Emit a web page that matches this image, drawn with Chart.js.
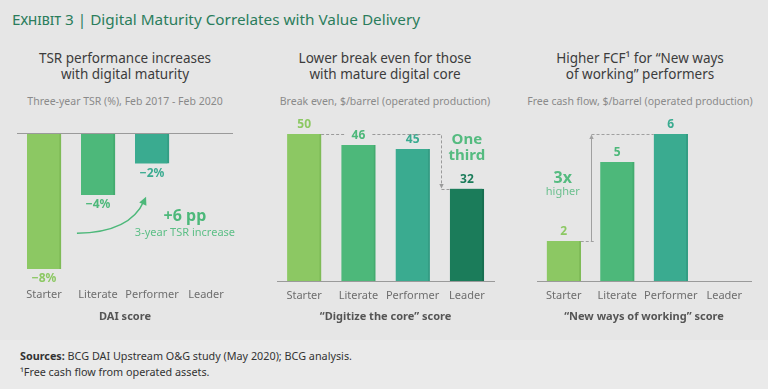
<!DOCTYPE html>
<html>
<head>
<meta charset="utf-8">
<script src="https://cdn.jsdelivr.net/npm/chart.js@4"></script>
<style>
  html, body { margin: 0; padding: 0; }
  body { width: 768px; height: 389px; background: #e6e6e6; position: relative; overflow: hidden; font-family: "Noto Sans", sans-serif; }
  .hdr { position: absolute; left: 12px; top: 9px; font-size: 15.3px; color: #2b7d5c; white-space: nowrap; }
  .hdr .ex { font-variant: small-caps; }
  .ttl { position: absolute; width: 256px; text-align: center; font-size: 13.5px; line-height: 16px; color: #3c3c3c; }
  .sub { position: absolute; width: 256px; text-align: center; font-size: 10.5px; color: #8a8a8a; white-space: nowrap; }
  .cv { position: absolute; top: 110px; height: 220px; }
  .foot { position: absolute; left: 0; top: 340px; width: 768px; height: 49px; background: #eaeaea; }
  .fn { position: absolute; left: 20px; font-size: 10.8px; color: #333; white-space: nowrap; }
</style>
</head>
<body>
<div class="hdr"><span class="ex">Exhibit 3</span> | Digital Maturity Correlates with Value Delivery</div>

<div class="ttl" style="left:-3px;top:50px">TSR performance increases<br>with digital maturity</div>
<div class="sub" style="left:-3px;top:94px">Three-year TSR (%), Feb 2017 - Feb 2020</div>

<div class="ttl" style="left:257px;top:50px">Lower break even for those<br>with mature digital core</div>
<div class="sub" style="left:257px;top:94px">Break even, $/barrel (operated production)</div>

<div class="ttl" style="left:512px;top:50px">Higher FCF¹ for “New ways<br>of working” performers</div>
<div class="sub" style="left:512px;top:94px">Free cash flow, $/barrel (operated production)</div>

<div class="cv" style="left:0;width:250px"><canvas id="chart1"></canvas></div>
<div class="cv" style="left:255px;width:255px"><canvas id="chart2"></canvas></div>
<div class="cv" style="left:510px;width:258px"><canvas id="chart3"></canvas></div>

<div class="foot"></div>
<div class="fn" style="top:348px"><b>Sources:</b> BCG DAI Upstream O&amp;G study (May 2020); BCG analysis.</div>
<div class="fn" style="top:364px">¹Free cash flow from operated assets.</div>

<script>
Chart.defaults.font.family = '"Noto Sans", sans-serif'
Chart.defaults.animation = false

// categories
const levels = ['Starter', 'Literate', 'Performer', 'Leader']
const barColors = ['#8cc863', '#4db87a', '#3aab90', '#1b7c5a']
const edgeColors = ['#7fbb57', '#44ab6f', '#349d84', '#176e50']

// panel 1: three-year TSR (%)
const tsrValues = [-8, -3.65, -1.8, null]
const tsrLabels = ['−8%', '−4%', '−2%', '']

// panel 2: break even, $/barrel
const breakEvenValues = [50, 46.3, 44.9, 31.4]
const breakEvenLabels = ['50', '46', '45', '32']

// panel 3: free cash flow, $/barrel
const fcfValues = [1.63, 4.86, 6, null]
const fcfLabels = ['2', '5', '6', '']

const axisTitles = ['DAI score', '“Digitize the core” score', '“New ways of working” score']

// draws value labels above (or below, for negatives) each bar
const valueLabels = {
  id: 'valueLabels',
  afterDatasetsDraw(chart, args, opts) {
    const ctx = chart.ctx
    const meta = chart.getDatasetMeta(0)
    ctx.save()
    ctx.font = 'bold 12px "Noto Sans", sans-serif'
    ctx.textAlign = 'center'
    ctx.textBaseline = 'middle'
    meta.data.forEach((bar, i) => {
      const v = chart.data.datasets[0].data[i]
      if (v == null) return
      ctx.fillStyle = barColors[i]
      const y = v < 0 ? bar.y + 10 : bar.y - 9.5
      ctx.fillText(opts.labels[i], bar.x, y)
    })
    ctx.restore()
  }
}

function arrowHead(ctx, x, y, ang, size) {
  ctx.beginPath()
  ctx.moveTo(x, y)
  ctx.lineTo(x - size * Math.cos(ang - 0.45), y - size * Math.sin(ang - 0.45))
  ctx.lineTo(x - size * Math.cos(ang + 0.45), y - size * Math.sin(ang + 0.45))
  ctx.closePath()
  ctx.fill()
}

function baseOptions(min, max, pad, tickPad, axisH, title, showBorder) {
  return {
    responsive: true,
    maintainAspectRatio: false,
    layout: { padding: pad },
    plugins: { legend: { display: false }, tooltip: { enabled: false } },
    scales: {
      x: {
        grid: { display: false, drawTicks: false },
        border: { display: showBorder, color: '#9a9a9a', width: 1 },
        ticks: { color: '#6e6e6e', font: { size: 11 }, padding: tickPad, maxRotation: 0, minRotation: 0, autoSkip: false },
        title: { display: true, text: title, color: '#555', font: { size: 11, weight: 'bold' }, padding: { top: 0, bottom: 7 } },
        afterFit(scale) { scale.height = axisH; scale.paddingLeft = 0; scale.paddingRight = 0 }
      },
      y: { display: false, min: min, max: max }
    }
  }
}

function barData(values) {
  return {
    labels: levels,
    datasets: [{
      data: values,
      backgroundColor: barColors,
      borderColor: edgeColors,
      borderWidth: { top: 0, left: 0, bottom: 0, right: 2 },
      borderSkipped: false,
      barThickness: 34
    }]
  }
}

// chart 1: negative bars hanging from a top axis line
const tsrNotes = {
  id: 'tsrNotes',
  afterDatasetsDraw(chart) {
    const ctx = chart.ctx
    const xs = chart.scales.x, ys = chart.scales.y
    const area = chart.chartArea
    ctx.save()
    // zero line at the top
    ctx.strokeStyle = '#9a9a9a'
    ctx.lineWidth = 1
    ctx.beginPath()
    ctx.moveTo(area.left, Math.round(ys.getPixelForValue(0)) + 0.5)
    ctx.lineTo(area.right, Math.round(ys.getPixelForValue(0)) + 0.5)
    ctx.stroke()
    // curved arrow
    const step = xs.getPixelForValue(1) - xs.getPixelForValue(0)
    const x0 = xs.getPixelForValue(1) - step * 0.39, y0 = ys.getPixelForValue(-5.9)
    const x1 = xs.getPixelForValue(1) + step * 0.89, y1 = ys.getPixelForValue(-3.75)
    const cx = xs.getPixelForValue(1) + step * 0.6, cy = ys.getPixelForValue(-5.85)
    ctx.strokeStyle = '#4db87a'
    ctx.fillStyle = '#4db87a'
    ctx.lineWidth = 1.5
    ctx.beginPath()
    ctx.moveTo(x0, y0)
    ctx.quadraticCurveTo(cx, cy, x1 - 2, y1 + 4)
    ctx.stroke()
    arrowHead(ctx, x1, y1, Math.atan2(y1 - cy, x1 - cx), 9)
    // note text
    const tx = xs.getPixelForValue(2) + step * 0.61
    ctx.textAlign = 'center'
    ctx.textBaseline = 'middle'
    ctx.font = 'bold 16px "Noto Sans", sans-serif'
    ctx.fillText('+6 pp', tx, ys.getPixelForValue(-4.9))
    ctx.font = '11px "Noto Sans", sans-serif'
    ctx.fillStyle = '#5cbf86'
    ctx.fillText('3-year TSR increase', tx, ys.getPixelForValue(-5.9))
    ctx.restore()
  }
}

const opts1 = baseOptions(-8, 0, { left: 17, right: 17, top: 23, bottom: 0 }, 19, 61, axisTitles[0], false)
opts1.plugins.valueLabels = { labels: tsrLabels }
new Chart(document.getElementById('chart1'), {
  type: 'bar',
  data: barData(tsrValues),
  options: opts1,
  plugins: [valueLabels, tsrNotes]
})

// chart 2: break even with "one third" drop
const breakEvenNotes = {
  id: 'breakEvenNotes',
  afterDatasetsDraw(chart) {
    const ctx = chart.ctx
    const xs = chart.scales.x, ys = chart.scales.y
    const meta = chart.getDatasetMeta(0)
    const step = xs.getPixelForValue(1) - xs.getPixelForValue(0)
    const yTop = Math.round(ys.getPixelForValue(breakEvenValues[0])) + 0.5
    const yLow = Math.round(ys.getPixelForValue(breakEvenValues[3])) + 0.5
    const xArrow = Math.round(xs.getPixelForValue(2) + step * 0.52) + 0.5
    const b0 = meta.data[0], b1 = meta.data[1], b3 = meta.data[3]
    ctx.save()
    ctx.strokeStyle = '#9a9a9a'
    ctx.fillStyle = '#9a9a9a'
    ctx.lineWidth = 1
    ctx.setLineDash([3, 2])
    ctx.beginPath()
    ctx.moveTo(b0.x + b0.width / 2, yTop)
    ctx.lineTo(b1.x - b1.width / 2 + 4, yTop)
    ctx.moveTo(b1.x + b1.width / 2 - 3, yTop)
    ctx.lineTo(xArrow, yTop)
    ctx.lineTo(xArrow, yLow - 3)
    ctx.moveTo(xArrow, yLow)
    ctx.lineTo(b3.x - b3.width / 2, yLow)
    ctx.stroke()
    ctx.setLineDash([])
    arrowHead(ctx, xArrow, yLow - 1, Math.PI / 2, 5)
    ctx.fillStyle = '#55bb80'
    ctx.font = 'bold 15px "Noto Sans", sans-serif'
    ctx.textAlign = 'center'
    ctx.textBaseline = 'middle'
    const tx = b3.x
    ctx.fillText('One', tx, ys.getPixelForValue(48))
    ctx.fillText('third', tx, ys.getPixelForValue(42.5))
    ctx.restore()
  }
}

const opts2 = baseOptions(0, 50, { left: 22, right: 16, top: 24, bottom: 0 }, 8, 49, axisTitles[1], true)
opts2.plugins.valueLabels = { labels: breakEvenLabels }
new Chart(document.getElementById('chart2'), {
  type: 'bar',
  data: barData(breakEvenValues),
  options: opts2,
  plugins: [valueLabels, breakEvenNotes]
})

// chart 3: free cash flow with "3x higher" arrow
const fcfNotes = {
  id: 'fcfNotes',
  afterDatasetsDraw(chart) {
    const ctx = chart.ctx
    const xs = chart.scales.x, ys = chart.scales.y
    const meta = chart.getDatasetMeta(0)
    const step = xs.getPixelForValue(1) - xs.getPixelForValue(0)
    const b0 = meta.data[0], b2 = meta.data[2]
    const yLow = Math.round(b0.y) + 0.5
    const yTop = Math.round(b2.y) + 0.5
    const xLine = Math.round(xs.getPixelForValue(0) + step * 0.5) + 0.5
    ctx.save()
    ctx.strokeStyle = '#a0a0a0'
    ctx.fillStyle = '#a0a0a0'
    ctx.lineWidth = 1
    ctx.setLineDash([3, 2])
    ctx.beginPath()
    ctx.moveTo(b0.x + b0.width / 2, yLow)
    ctx.lineTo(xLine + 4, yLow)
    ctx.moveTo(xLine, yTop)
    ctx.lineTo(b2.x - b2.width / 2, yTop)
    ctx.stroke()
    ctx.setLineDash([])
    ctx.beginPath()
    ctx.moveTo(xLine, yLow)
    ctx.lineTo(xLine, yTop + 3)
    ctx.stroke()
    arrowHead(ctx, xLine, yTop, -Math.PI / 2, 5)
    ctx.textAlign = 'center'
    ctx.textBaseline = 'middle'
    ctx.fillStyle = '#55bb80'
    ctx.font = 'bold 16px "Noto Sans", sans-serif'
    ctx.fillText('3x', b0.x - 1, ys.getPixelForValue(4.2))
    ctx.fillStyle = '#6cc08f'
    ctx.font = '11px "Noto Sans", sans-serif'
    ctx.fillText('higher', b0.x - 1, ys.getPixelForValue(3.65))
    ctx.restore()
  }
}

const opts3 = baseOptions(0, 6, { left: 27, right: 17, top: 24, bottom: 0 }, 8, 49, axisTitles[2], true)
opts3.plugins.valueLabels = { labels: fcfLabels }
new Chart(document.getElementById('chart3'), {
  type: 'bar',
  data: barData(fcfValues),
  options: opts3,
  plugins: [valueLabels, fcfNotes]
})
</script>
</body>
</html>
